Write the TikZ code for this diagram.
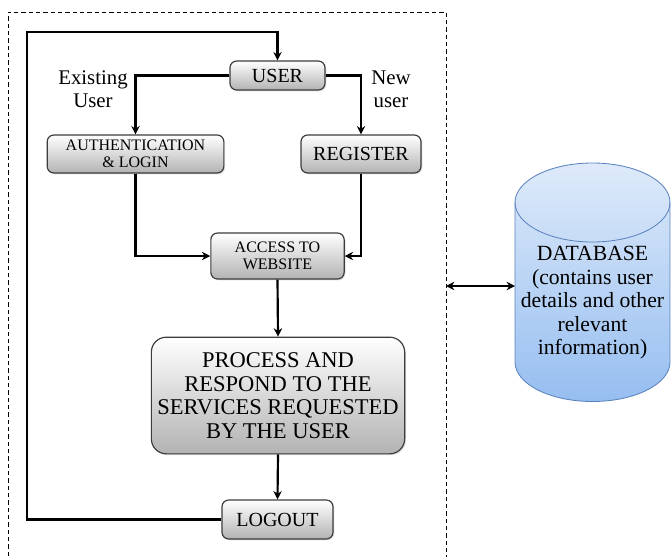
\documentclass[tikz,border=0pt]{standalone}
\usepackage{fontspec}
\setmainfont{Liberation Serif}
\usetikzlibrary{positioning}
\usetikzlibrary{arrows.meta, shadows}

\definecolor{boxline}{RGB}{60,60,60}
\definecolor{dbline}{RGB}{90,130,190}
\definecolor{dbtop}{RGB}{222,234,250}
\definecolor{dbbottom}{RGB}{150,190,240}

\begin{document}
\begin{tikzpicture}[
			x=0.6pt, y=-0.6pt,
			stepbox/.style={
				rectangle,
				draw=boxline,
				line width=0.7pt,
				top color=white,
				bottom color=black!30,
				rounded corners=4pt,
				inner sep=2pt,
				align=center,
				font=\fontsize{12}{12}\selectfont,
				drop shadow={opacity=0.25, shadow xshift=0.8pt, shadow yshift=-0.8pt}
			},
			smallbox/.style={
				stepbox,
				font=\fontsize{9.6}{10.5}\selectfont
			},
			flow/.style={
				line width=1.3pt,
				-{Stealth[length=5pt, width=5pt]}
			},
			label/.style={
				align=center,
				font=\fontsize{12.5}{13.8}\selectfont
			}
			]
			\useasboundingbox (0,0) rectangle (671,556);

			% Boundary of the application
			\draw[line width=0.6pt, dash pattern=on 2.6pt off 1.8pt] (8,600) -- (8,12) -- (446,12) -- (446,600);

			% Boxes of the flow
			\node[stepbox, minimum width=57pt, minimum height=17.4pt] (user) at (277.5,75.5) {USER};
			\node[smallbox, minimum width=106pt, minimum height=22.8pt] (auth) at (135.5,154) {AUTHENTICATION\\\& LOGIN};
			\node[stepbox, minimum width=72pt, minimum height=22.8pt] (register) at (361,154) {REGISTER};
			\node[smallbox, minimum width=80pt, minimum height=27.6pt] (access) at (277.5,256) {ACCESS TO\\WEBSITE};
			\node[stepbox, rounded corners=9pt, minimum width=152pt, minimum height=70pt,
				font=\fontsize{13.5}{14.2}\selectfont] (process) at (278,395.5)
				{PROCESS AND\\RESPOND TO THE\\SERVICES REQUESTED\\BY THE USER};
			\node[stepbox, minimum width=66.6pt, minimum height=23.4pt] (logout) at (277.5,519.5) {LOGOUT};

			% Branch labels
			\node[label] (existing) at (93,89) {Existing\\User};
			\node[label] (newuser) at (391,89) {New\\user};

			% Connectors
			\draw[flow] (user.west) -| (auth.north);
			\draw[flow] (user.east) -| (register.north);
			\draw[flow] (auth.south) |- (access.west);
			\draw[flow] (register.south) |- (access.east);
			\draw[flow] (access.south) -- (process.north);
			\draw[flow] (process.south) -- (logout.north);
			\draw[flow] (logout.west) -- (27,519.5) -- (27,32) -| (user.north);

			% Database cylinder
			\shade[top color=dbtop, bottom color=dbbottom, draw=dbline, line width=0.5pt]
				(515,202.5) -- (515,362) arc[start angle=180, end angle=360, x radius=77.5, y radius=-39.5]
				-- (670,202.5) arc[start angle=0, end angle=180, x radius=77.5, y radius=-39.5] -- cycle;
			\draw[dbline, line width=0.5pt] (515,202.5) arc[start angle=180, end angle=360, x radius=77.5, y radius=-39.5];
			\node[align=center, font=\fontsize{13}{14.1}\selectfont] (db) at (592.5,303)
				{DATABASE\\(contains user\\details and other\\relevant\\information)};
			\coordinate (dbside) at (515,286);
			\coordinate (boundary) at (446,286);
			\draw[line width=1.3pt, {Stealth[length=5pt, width=5pt]}-{Stealth[length=5pt, width=5pt]}] (boundary) -- (dbside);

		\end{tikzpicture}
\end{document}
